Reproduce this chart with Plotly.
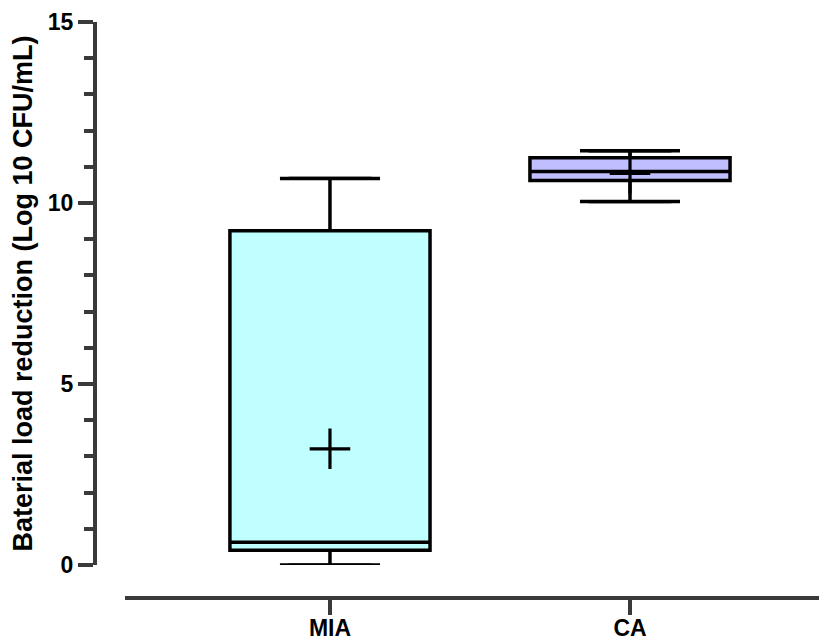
import plotly.graph_objects as go

groups = ["MIA", "CA"]
q1 = [0.41, 10.62]
median = [0.63, 10.87]
q3 = [9.23, 11.25]
lower_whisker = [0.0, 10.04]
upper_whisker = [10.68, 11.44]
means = [3.21, 10.82]
fill_colors = ["#BFFFFF", "#BFBFFF"]

y_title = "Baterial load reduction (Log 10 CFU/mL)"
y_ticks = [0, 5, 10, 15]

positions = list(range(len(groups)))
box_width = 0.667
cap_half = 0.138
font_family = "Arial, 'Liberation Sans', sans-serif"
axis_color = "#3a3a3a"

fig = go.Figure()
for i, g in enumerate(groups):
    fig.add_trace(go.Box(
        x=[positions[i]], q1=[q1[i]], median=[median[i]], q3=[q3[i]],
        lowerfence=[lower_whisker[i]], upperfence=[upper_whisker[i]],
        width=box_width, fillcolor=fill_colors[i],
        line=dict(color="black", width=3.5), name=g, showlegend=False,
        boxpoints=False, hoverinfo="skip",
    ))

cap_x, cap_y = [], []
for i in positions:
    for v in (upper_whisker[i], lower_whisker[i]):
        cap_x += [i - cap_half, i + cap_half, None]
        cap_y += [v, v, None]
fig.add_trace(go.Scatter(x=cap_x, y=cap_y, mode="lines",
                         line=dict(color="black", width=3.2),
                         showlegend=False, hoverinfo="skip"))

fig.add_trace(go.Scatter(x=positions, y=means, mode="markers",
                         marker=dict(symbol="cross-thin", size=29,
                                     line=dict(color="black", width=3.2)),
                         showlegend=False, hoverinfo="skip"))

fig.update_layout(
    width=827, height=640,
    margin=dict(l=87, r=0, t=14, b=50),
    plot_bgcolor="white", paper_bgcolor="white",
    font=dict(family=font_family, color="black"),
    xaxis=dict(
        domain=[0.0405, 1], anchor="free", position=0,
        range=[-0.6833, 1.6833], tickvals=positions, ticktext=groups,
        showline=True, linewidth=4, linecolor=axis_color,
        ticks="outside", ticklen=15, tickwidth=4, tickcolor=axis_color,
        ticklabelstandoff=-7,
        tickfont=dict(size=23, family=font_family, weight="bold"),
        showgrid=False, zeroline=False,
    ),
    yaxis=dict(
        domain=[0.0573, 1], anchor="free", position=0,
        range=[0, 15], tickvals=y_ticks,
        showline=True, linewidth=4, linecolor=axis_color,
        ticks="outside", ticklen=15, tickwidth=4, tickcolor=axis_color,
        minor=dict(dtick=1, ticks="outside", ticklen=9, tickwidth=4,
                   tickcolor=axis_color, showgrid=False),
        tickfont=dict(size=23, family=font_family, weight="bold"),
        title=dict(text=y_title, font=dict(size=27, family=font_family, weight="bold")),
        showgrid=False, zeroline=False,
    ),
)

fig.write_html("out.html")
